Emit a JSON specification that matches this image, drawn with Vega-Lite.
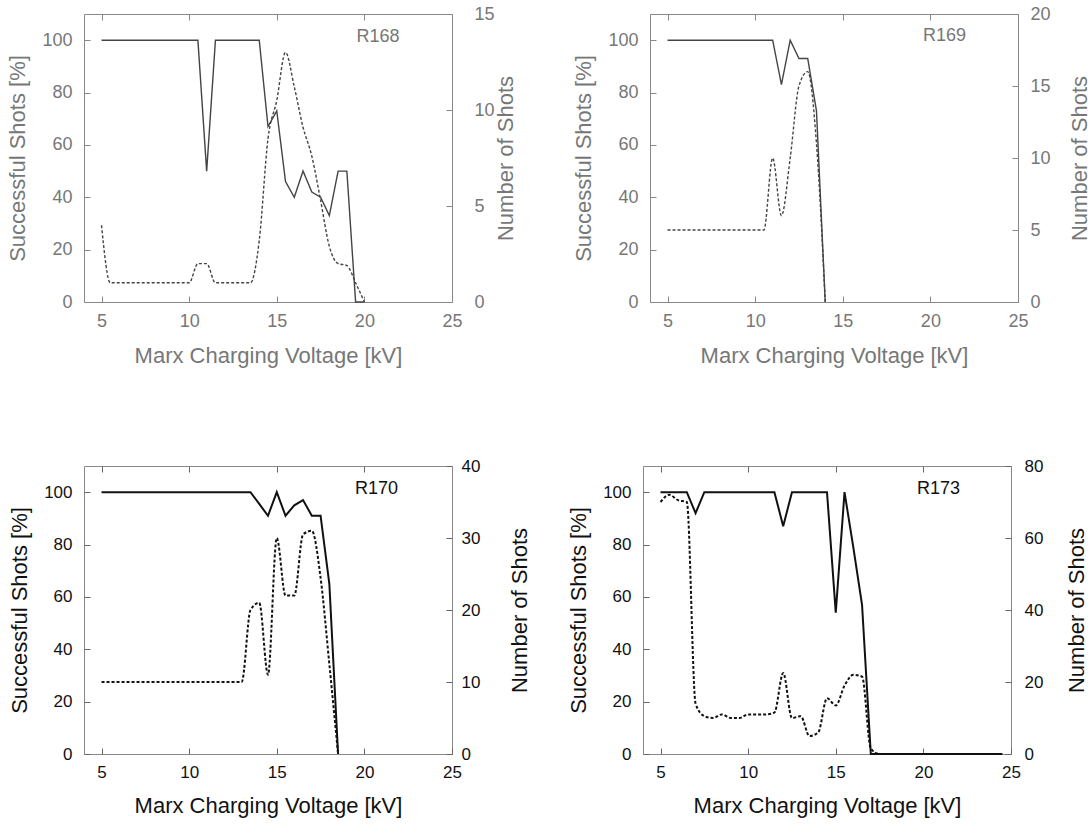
{
 "$schema": "https://vega.github.io/schema/vega-lite/v6.json",
 "autosize": {"type": "pad"},
 "padding": {"left": 6, "top": 4, "right": 5, "bottom": 5},
 "background": "white",
 "config": {"font": "Liberation Sans", "view": {"stroke": "#888"}, "axis": {"grid": false, "labelFont": "Liberation Sans", "titleFont": "Liberation Sans", "titleFontWeight": "normal", "labelFlush": false}},
 "spacing": 452,
 "bounds": "flush",
 "vconcat": [
  {"hconcat": [
   {"width": 368, "height": 288,
    "data": {"values": [
     {"kv":5,"s":100,"n":4},{"kv":5.5,"s":100,"n":1},{"kv":6,"s":100,"n":1},{"kv":6.5,"s":100,"n":1},{"kv":7,"s":100,"n":1},{"kv":7.5,"s":100,"n":1},{"kv":8,"s":100,"n":1},{"kv":8.5,"s":100,"n":1},{"kv":9,"s":100,"n":1},{"kv":9.5,"s":100,"n":1},{"kv":10,"s":100,"n":1},{"kv":10.5,"s":100,"n":2},{"kv":11,"s":50,"n":2},{"kv":11.5,"s":100,"n":1},{"kv":12,"s":100,"n":1},{"kv":12.5,"s":100,"n":1},{"kv":13,"s":100,"n":1},{"kv":13.5,"s":100,"n":1},{"kv":14,"s":100,"n":3.2},{"kv":14.5,"s":67,"n":8.5},{"kv":15,"s":73,"n":10.5},{"kv":15.5,"s":46,"n":13},{"kv":16,"s":40,"n":11.2},{"kv":16.5,"s":50,"n":9.1},{"kv":17,"s":42,"n":7.6},{"kv":17.5,"s":40,"n":5.3},{"kv":18,"s":33,"n":2.9},{"kv":18.5,"s":50,"n":2},{"kv":19,"s":50,"n":1.9},{"kv":19.5,"s":0,"n":1},{"kv":20,"s":0,"n":0}
    ]},
    "layer": [
     {"mark": {"type": "line", "color": "#444", "strokeWidth": 1.4},
      "encoding": {
       "x": {"field": "kv", "type": "quantitative", "scale": {"domain": [4, 25], "nice": false, "zero": false},
             "axis": {"orient": "bottom", "values": [5,10,15,20,25], "title": "Marx Charging Voltage [kV]", "domain": false, "tickSize": -6, "tickColor": "#888", "labelPadding": 16, "titlePadding": 15, "labelColor": "#777", "titleColor": "#777", "labelFontSize": 18, "titleFontSize": 22}},
       "y": {"field": "s", "type": "quantitative", "scale": {"domain": [0, 110], "nice": false},
             "axis": {"orient": "left", "values": [0,20,40,60,80,100], "title": "Successful Shots [%]", "domain": false, "tickSize": -6, "tickColor": "#888", "labelPadding": 18, "titlePadding": 12, "labelColor": "#777", "titleColor": "#777", "labelFontSize": 18, "titleFontSize": 22}}}},
     {"mark": {"type": "line", "color": "#444", "strokeWidth": 1.4, "strokeDash": [3, 2], "interpolate": "monotone"},
      "encoding": {
       "x": {"field": "kv", "type": "quantitative", "scale": {"domain": [4, 25], "nice": false, "zero": false},
             "axis": {"orient": "top", "values": [5,10,15,20], "labels": false, "title": null, "domain": false, "tickSize": -6, "tickColor": "#888"}},
       "y": {"field": "n", "type": "quantitative", "scale": {"domain": [0, 15], "nice": false},
             "axis": {"orient": "right", "values": [0,5,10,15], "title": "Number of Shots", "titleAngle": -90, "domain": false, "tickSize": -6, "tickColor": "#888", "labelPadding": 28, "titlePadding": 23, "labelColor": "#777", "titleColor": "#777", "labelFontSize": 18, "titleFontSize": 22}}}},
     {"data": {"values": [{"x": 19.55, "y": 101.3, "label": "R168"}]},
      "mark": {"type": "text", "align": "left", "baseline": "middle", "fontSize": 18, "color": "#777", "font": "Liberation Sans"},
      "encoding": {
       "x": {"field": "x", "type": "quantitative", "scale": {"domain": [4, 25], "nice": false, "zero": false}, "axis": null},
       "y": {"field": "y", "type": "quantitative", "scale": {"domain": [0, 110], "nice": false}, "axis": null},
       "text": {"field": "label"}}}
    ],
    "resolve": {"scale": {"y": "independent"}, "axis": {"x": "independent"}}
   },
   {"width": 368, "height": 288,
    "data": {"values": [
     {"kv":5,"s":100,"n":5},{"kv":5.5,"s":100,"n":5},{"kv":6,"s":100,"n":5},{"kv":6.5,"s":100,"n":5},{"kv":7,"s":100,"n":5},{"kv":7.5,"s":100,"n":5},{"kv":8,"s":100,"n":5},{"kv":8.5,"s":100,"n":5},{"kv":9,"s":100,"n":5},{"kv":9.5,"s":100,"n":5},{"kv":10,"s":100,"n":5},{"kv":10.5,"s":100,"n":5},{"kv":11,"s":100,"n":10},{"kv":11.5,"s":83,"n":6},{"kv":12,"s":100,"n":10},{"kv":12.5,"s":93,"n":15},{"kv":13,"s":93,"n":16},{"kv":13.5,"s":73,"n":11},{"kv":14,"s":0,"n":0}
    ]},
    "layer": [
     {"mark": {"type": "line", "color": "#444", "strokeWidth": 1.4},
      "encoding": {
       "x": {"field": "kv", "type": "quantitative", "scale": {"domain": [4, 25], "nice": false, "zero": false},
             "axis": {"orient": "bottom", "values": [5,10,15,20,25], "title": "Marx Charging Voltage [kV]", "domain": false, "tickSize": -6, "tickColor": "#888", "labelPadding": 16, "titlePadding": 15, "labelColor": "#777", "titleColor": "#777", "labelFontSize": 18, "titleFontSize": 22}},
       "y": {"field": "s", "type": "quantitative", "scale": {"domain": [0, 110], "nice": false},
             "axis": {"orient": "left", "values": [0,20,40,60,80,100], "title": "Successful Shots [%]", "domain": false, "tickSize": -6, "tickColor": "#888", "labelPadding": 18, "titlePadding": 12, "labelColor": "#777", "titleColor": "#777", "labelFontSize": 18, "titleFontSize": 22}}}},
     {"mark": {"type": "line", "color": "#444", "strokeWidth": 1.4, "strokeDash": [3, 2], "interpolate": "monotone"},
      "encoding": {
       "x": {"field": "kv", "type": "quantitative", "scale": {"domain": [4, 25], "nice": false, "zero": false},
             "axis": {"orient": "top", "values": [5,10,15,20], "labels": false, "title": null, "domain": false, "tickSize": -6, "tickColor": "#888"}},
       "y": {"field": "n", "type": "quantitative", "scale": {"domain": [0, 20], "nice": false},
             "axis": {"orient": "right", "values": [0,5,10,15,20], "title": "Number of Shots", "titleAngle": -90, "domain": false, "tickSize": -6, "tickColor": "#888", "labelPadding": 18, "titlePadding": 41, "labelColor": "#777", "titleColor": "#777", "labelFontSize": 18, "titleFontSize": 22}}}},
     {"data": {"values": [{"x": 19.58, "y": 101.6, "label": "R169"}]},
      "mark": {"type": "text", "align": "left", "baseline": "middle", "fontSize": 18, "color": "#777", "font": "Liberation Sans"},
      "encoding": {
       "x": {"field": "x", "type": "quantitative", "scale": {"domain": [4, 25], "nice": false, "zero": false}, "axis": null},
       "y": {"field": "y", "type": "quantitative", "scale": {"domain": [0, 110], "nice": false}, "axis": null},
       "text": {"field": "label"}}}
    ],
    "resolve": {"scale": {"y": "independent"}, "axis": {"x": "independent"}}
   }
  ], "spacing": 198, "bounds": "flush"},
  {"hconcat": [
   {"width": 368, "height": 288,
    "data": {"values": [
     {"kv":5,"s":100,"n":10},{"kv":5.5,"s":100,"n":10},{"kv":6,"s":100,"n":10},{"kv":6.5,"s":100,"n":10},{"kv":7,"s":100,"n":10},{"kv":7.5,"s":100,"n":10},{"kv":8,"s":100,"n":10},{"kv":8.5,"s":100,"n":10},{"kv":9,"s":100,"n":10},{"kv":9.5,"s":100,"n":10},{"kv":10,"s":100,"n":10},{"kv":10.5,"s":100,"n":10},{"kv":11,"s":100,"n":10},{"kv":11.5,"s":100,"n":10},{"kv":12,"s":100,"n":10},{"kv":12.5,"s":100,"n":10},{"kv":13,"s":100,"n":10},{"kv":13.5,"s":100,"n":20},{"kv":14,"s":95.5,"n":21},{"kv":14.5,"s":91,"n":11},{"kv":15,"s":100,"n":30},{"kv":15.5,"s":91,"n":22},{"kv":16,"s":95,"n":22},{"kv":16.5,"s":97,"n":30.5},{"kv":17,"s":91,"n":31},{"kv":17.5,"s":91,"n":24.5},{"kv":18,"s":65,"n":12.5},{"kv":18.5,"s":0,"n":0}
    ]},
    "layer": [
     {"mark": {"type": "line", "color": "#111", "strokeWidth": 2},
      "encoding": {
       "x": {"field": "kv", "type": "quantitative", "scale": {"domain": [4, 25], "nice": false, "zero": false},
             "axis": {"orient": "bottom", "values": [5,10,15,20,25], "title": "Marx Charging Voltage [kV]", "domain": false, "tickSize": -6, "tickColor": "#666", "labelPadding": 16, "titlePadding": 15, "labelColor": "#111", "titleColor": "#111", "labelFontSize": 17, "titleFontSize": 22}},
       "y": {"field": "s", "type": "quantitative", "scale": {"domain": [0, 110], "nice": false},
             "axis": {"orient": "left", "values": [0,20,40,60,80,100], "title": "Successful Shots [%]", "domain": false, "tickSize": -6, "tickColor": "#666", "labelPadding": 18, "titlePadding": 12, "labelColor": "#111", "titleColor": "#111", "labelFontSize": 17, "titleFontSize": 22}}}},
     {"mark": {"type": "line", "color": "#111", "strokeWidth": 2, "strokeDash": [3, 2], "interpolate": "monotone"},
      "encoding": {
       "x": {"field": "kv", "type": "quantitative", "scale": {"domain": [4, 25], "nice": false, "zero": false},
             "axis": {"orient": "top", "values": [5,10,15,20], "labels": false, "title": null, "domain": false, "tickSize": -6, "tickColor": "#666"}},
       "y": {"field": "n", "type": "quantitative", "scale": {"domain": [0, 40], "nice": false},
             "axis": {"orient": "right", "values": [0,10,20,30,40], "title": "Number of Shots", "titleAngle": -90, "domain": false, "tickSize": -6, "tickColor": "#666", "labelPadding": 15, "titlePadding": 52, "labelColor": "#111", "titleColor": "#111", "labelFontSize": 17, "titleFontSize": 22}}}},
     {"data": {"values": [{"x": 19.47, "y": 101.2, "label": "R170"}]},
      "mark": {"type": "text", "align": "left", "baseline": "middle", "fontSize": 18, "color": "#111", "font": "Liberation Sans"},
      "encoding": {
       "x": {"field": "x", "type": "quantitative", "scale": {"domain": [4, 25], "nice": false, "zero": false}, "axis": null},
       "y": {"field": "y", "type": "quantitative", "scale": {"domain": [0, 110], "nice": false}, "axis": null},
       "text": {"field": "label"}}}
    ],
    "resolve": {"scale": {"y": "independent"}, "axis": {"x": "independent"}}
   },
   {"width": 368, "height": 288,
    "data": {"values": [
     {"kv":5,"s":100,"n":70},{"kv":5.5,"s":100,"n":72},{"kv":6,"s":100,"n":70.5},{"kv":6.5,"s":100,"n":70},{"kv":7,"s":92,"n":14},{"kv":7.5,"s":100,"n":10.5},{"kv":8,"s":100,"n":10},{"kv":8.5,"s":100,"n":11},{"kv":9,"s":100,"n":10},{"kv":9.5,"s":100,"n":10},{"kv":10,"s":100,"n":11},{"kv":10.5,"s":100,"n":11},{"kv":11,"s":100,"n":11},{"kv":11.5,"s":100,"n":11.5},{"kv":12,"s":87,"n":22.5},{"kv":12.5,"s":100,"n":10},{"kv":13,"s":100,"n":10.5},{"kv":13.5,"s":100,"n":5},{"kv":14,"s":100,"n":6},{"kv":14.5,"s":100,"n":15.5},{"kv":15,"s":54,"n":13.5},{"kv":15.5,"s":100,"n":19},{"kv":16,"s":79,"n":22},{"kv":16.5,"s":57,"n":21.5},{"kv":17,"s":0,"n":1.5},{"kv":17.5,"s":0,"n":0},{"kv":18,"s":0,"n":0},{"kv":18.5,"s":0,"n":0},{"kv":19,"s":0,"n":0},{"kv":19.5,"s":0,"n":0},{"kv":20,"s":0,"n":0},{"kv":20.5,"s":0,"n":0},{"kv":21,"s":0,"n":0},{"kv":21.5,"s":0,"n":0},{"kv":22,"s":0,"n":0},{"kv":22.5,"s":0,"n":0},{"kv":23,"s":0,"n":0},{"kv":23.5,"s":0,"n":0},{"kv":24,"s":0,"n":0},{"kv":24.5,"s":0,"n":0}
    ]},
    "layer": [
     {"mark": {"type": "line", "color": "#111", "strokeWidth": 2},
      "encoding": {
       "x": {"field": "kv", "type": "quantitative", "scale": {"domain": [4, 25], "nice": false, "zero": false},
             "axis": {"orient": "bottom", "values": [5,10,15,20,25], "title": "Marx Charging Voltage [kV]", "domain": false, "tickSize": -6, "tickColor": "#666", "labelPadding": 16, "titlePadding": 15, "labelColor": "#111", "titleColor": "#111", "labelFontSize": 17, "titleFontSize": 22}},
       "y": {"field": "s", "type": "quantitative", "scale": {"domain": [0, 110], "nice": false},
             "axis": {"orient": "left", "values": [0,20,40,60,80,100], "title": "Successful Shots [%]", "domain": false, "tickSize": -6, "tickColor": "#666", "labelPadding": 18, "titlePadding": 12, "labelColor": "#111", "titleColor": "#111", "labelFontSize": 17, "titleFontSize": 22}}}},
     {"mark": {"type": "line", "color": "#111", "strokeWidth": 2, "strokeDash": [3, 2], "interpolate": "monotone"},
      "encoding": {
       "x": {"field": "kv", "type": "quantitative", "scale": {"domain": [4, 25], "nice": false, "zero": false},
             "axis": {"orient": "top", "values": [5,10,15,20], "labels": false, "title": null, "domain": false, "tickSize": -6, "tickColor": "#666"}},
       "y": {"field": "n", "type": "quantitative", "scale": {"domain": [0, 80], "nice": false},
             "axis": {"orient": "right", "values": [0,20,40,60,80], "title": "Number of Shots", "titleAngle": -90, "domain": false, "tickSize": -6, "tickColor": "#666", "labelPadding": 19, "titlePadding": 46, "labelColor": "#111", "titleColor": "#111", "labelFontSize": 17, "titleFontSize": 22}}}},
     {"data": {"values": [{"x": 19.64, "y": 101.2, "label": "R173"}]},
      "mark": {"type": "text", "align": "left", "baseline": "middle", "fontSize": 18, "color": "#111", "font": "Liberation Sans"},
      "encoding": {
       "x": {"field": "x", "type": "quantitative", "scale": {"domain": [4, 25], "nice": false, "zero": false}, "axis": null},
       "y": {"field": "y", "type": "quantitative", "scale": {"domain": [0, 110], "nice": false}, "axis": null},
       "text": {"field": "label"}}}
    ],
    "resolve": {"scale": {"y": "independent"}, "axis": {"x": "independent"}}
   }
  ], "spacing": 191, "bounds": "flush"}
 ]
}
